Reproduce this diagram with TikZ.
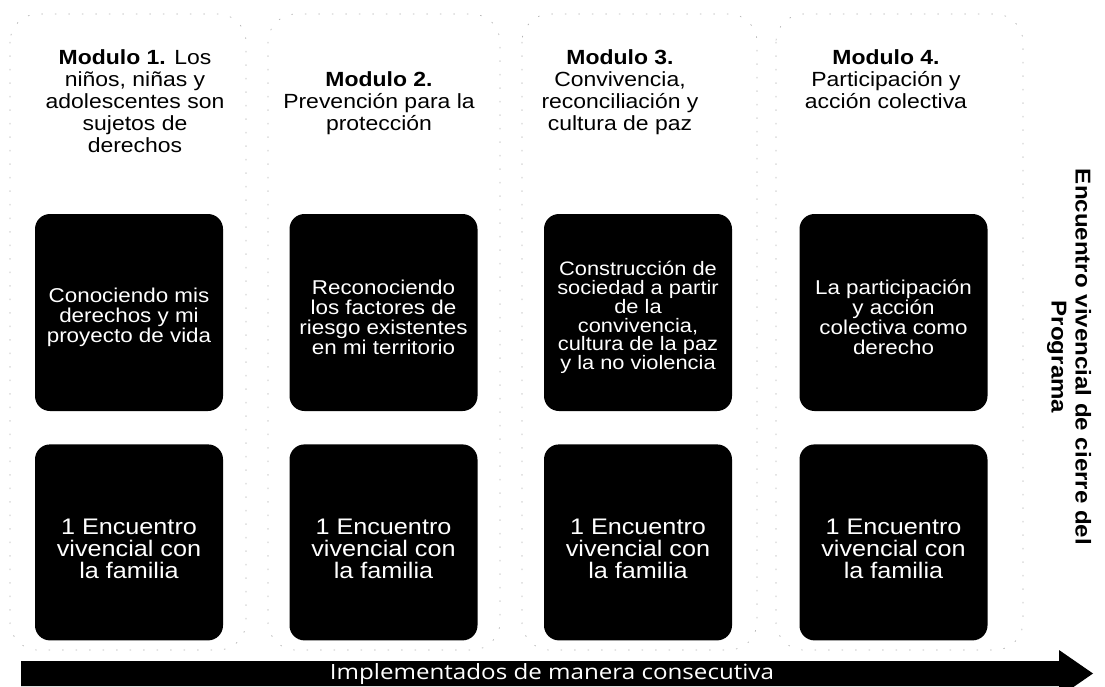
\documentclass[tikz,border=0pt]{standalone}
\usepackage{fontspec}
\setmainfont{Liberation Sans}[FakeStretch=1.12]
\newfontfamily\flechafont{Open Sans}[FakeStretch=1.15]
\usetikzlibrary{positioning}

\tikzset{
  modhead/.style={anchor=north, align=center, inner sep=0pt,
    font=\fontsize{20.5}{22}\selectfont},
  temabox/.style={fill=black, rounded corners=15pt, minimum width=188pt,
    minimum height=197pt, inner sep=0pt},
  tematext/.style={text=white, align=center, yshift=-5pt,
    font=\fontsize{20}{20}\selectfont},
  familiabox/.style={temabox, minimum height=196pt},
  familiatext/.style={text=white, align=center, yshift=-6pt,
    font=\fontsize{22.5}{22}\selectfont},
  modframe/.style={draw=black!30, line width=0.7pt,
    dash pattern=on 1.5pt off 12pt, rounded corners=28pt},
}

\begin{document}
\begin{tikzpicture}[x=1pt, y=-1pt]
  \useasboundingbox (0,0) rectangle (1105,687);
  \clip (0,0) rectangle (1105,687);

  \draw[modframe] (10,14) rectangle (246,650);
  \draw[modframe] (268,14) rectangle (500,650);
  \draw[modframe] (522,14) rectangle (757,650);
  \draw[modframe] (776,14) rectangle (1023,650);

  \node[modhead] (mod1) at (135,49)
    {\textbf{Modulo 1.} Los\\niños, niñas y\\adolescentes son\\sujetos de\\derechos};
  \node[modhead] (mod2) at (379,71)
    {\textbf{Modulo 2.}\\Prevención para la\\protección};
  \node[modhead] (mod3) at (620,49)
    {\textbf{Modulo 3.}\\Convivencia,\\reconciliación y\\cultura de paz};
  \node[modhead] (mod4) at (886,49)
    {\textbf{Modulo 4.}\\Participación y\\acción colectiva};

  \node[temabox, label={[tematext]center:{Conociendo mis\\derechos y mi\\proyecto de vida}}]
    (tema1) at (129,312.5) {};
  \node[temabox, label={[tematext]center:{Reconociendo\\los factores de\\riesgo existentes\\en mi territorio}}]
    (tema2) at (383.5,312.5) {};
  \node[temabox, label={[tematext, font=\fontsize{19.5}{18.8}\selectfont]center:{Construcción de\\sociedad a partir\\de la\\convivencia,\\cultura de la paz\\y la no violencia}}]
    (tema3) at (638,312.5) {};
  \node[temabox, label={[tematext]center:{La participación\\y acción\\colectiva como\\derecho}}]
    (tema4) at (893.5,312.5) {};

  \foreach \i in {1,...,4}
    \node[familiabox, below=33pt of tema\i,
      label={[familiatext]center:{1 Encuentro\\vivencial con\\la familia}}]
      (familia\i) {};

  \node[rotate=-90, align=center, font=\bfseries\fontsize{21.5}{24}\selectfont]
    (cierre) at (1069,357) {Encuentro vivencial de cierre del\\Programa};

  \coordinate (flecha ini) at (21,673.5);
  \coordinate (flecha fin) at (1093,673.5);
  \fill (flecha ini) ++(0,-12.5) -- (1059,661) -- (1059,650) -- (flecha fin)
    -- (1059,697) -- (1059,686) -- (21,686) -- cycle;
  \node[text=white, font=\flechafont\fontsize{21}{21}\selectfont]
    (lema) at (552,674) {Implementados de manera consecutiva};
\end{tikzpicture}
\end{document}
